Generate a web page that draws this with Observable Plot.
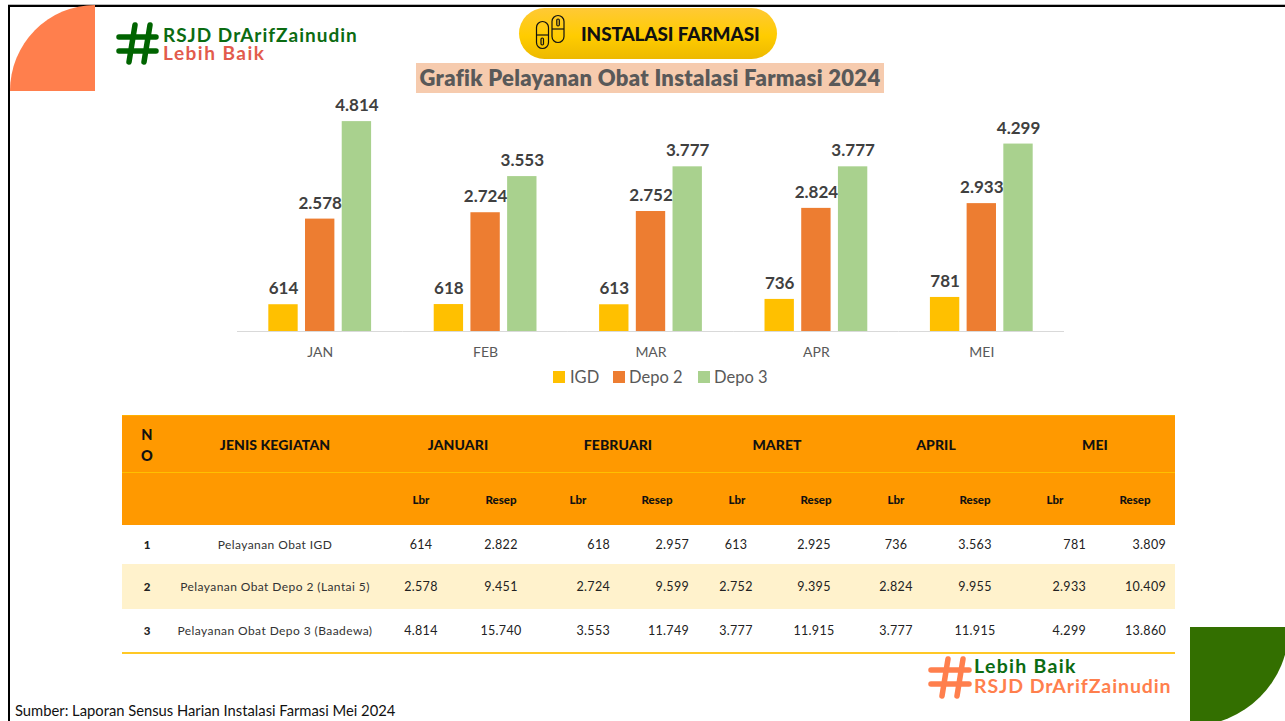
<!DOCTYPE html>
<html lang="id">
<head>
<meta charset="utf-8">
<title>Grafik Pelayanan Obat Instalasi Farmasi 2024</title>
<script src="https://cdn.jsdelivr.net/npm/d3@7"></script>
<script src="https://cdn.jsdelivr.net/npm/@observablehq/plot@0.6"></script>
<style>
html,body{margin:0;padding:0;background:#fff;}
#page{position:relative;width:1285px;height:721px;overflow:hidden;background:#fff;font-family:Lato,sans-serif;}
#page>*{position:absolute;}
.t{position:absolute;white-space:nowrap;line-height:1;transform:translate(-50%,-50%);}
.r{transform:translate(-100%,-50%);}
.l{transform:translate(0,-50%);}
.logo{line-height:.9;font-weight:700;}
</style>
</head>
<body>
<div id="page">
  <div style="left:8px;top:4px;width:1277px;height:1px;background:#bbb"></div>
  <div style="left:8px;top:5px;width:1277px;height:2px;background:#000"></div>
  <div style="left:8px;top:5px;width:2px;height:716px;background:#000"></div>
  <div style="left:10px;top:5px;width:85px;height:86px;background:#FF7F4D;border-top-left-radius:85px 86px"></div>
  <div style="left:1190px;top:627px;width:99px;height:99px;background:#336F00;border-bottom-right-radius:99px"></div>

  <svg style="left:0;top:0" width="1285" height="721" fill="none" stroke-linecap="round">
    <g stroke="#006400" stroke-width="5.5">
      <path d="M119 37H156M119 51H156M135 25L129 62M150 25L144 62"/>
    </g>
    <g stroke="#FF7F4D" stroke-width="5.5">
      <path d="M931 670H969M931 684H969M948 659L942 696M963 659L957 696"/>
    </g>
  </svg>

  <div style="left:519px;top:8px;width:258px;height:51px;border-radius:26px;background:linear-gradient(#FFC936,#FFCC00 55%,#EDB900)"></div>
  <svg style="left:530px;top:12px" width="40" height="40" fill="none" stroke="#111" stroke-width="1.2">
    <rect x="6.5" y="9.5" width="12" height="27" rx="6"/><path d="M6.5 23H18.5"/><rect x="11" y="26" width="2.5" height="7" rx="1.2"/>
    <rect x="22" y="3.5" width="12" height="27" rx="6"/><path d="M22 17H34"/><rect x="26.8" y="7" width="2.5" height="7" rx="1.2"/>
  </svg>
  <div class="t l" style="left:581px;top:34px;font-weight:900;font-size:18.9px;color:#111;letter-spacing:-.1px">INSTALASI FARMASI</div>

  <div style="left:416px;top:63px;width:468px;height:30px;background:#F6CBAE"></div>
  <div class="t" style="left:650px;top:78px;font-weight:800;font-size:22px;color:#595959;letter-spacing:.3px">Grafik Pelayanan Obat Instalasi Farmasi 2024</div>

  <div class="t l logo" style="left:163px;top:35px;font-size:19px;letter-spacing:1px;color:#0B6B12">RSJD DrArifZainudin</div>
  <div class="t l logo" style="left:163px;top:53px;font-size:19px;letter-spacing:1.5px;color:#E25B4C">Lebih Baik</div>
  <div class="t l logo" style="left:974px;top:666px;font-size:19.5px;letter-spacing:1.3px;color:#0B6B12">Lebih Baik</div>
  <div class="t l logo" style="left:974px;top:686px;font-size:19.5px;letter-spacing:.9px;color:#FF7F4D">RSJD DrArifZainudin</div>

  <div id="chart" style="left:0;top:0"></div>
  <div id="legend" style="left:0;top:0"></div>
  <div id="table" style="left:0;top:0"></div>

  <div class="t l" style="left:15px;top:710px;font-size:14.75px;color:#111">Sumber: Laporan Sensus Harian Instalasi Farmasi Mei 2024</div>
</div>
<script>
const months = ["JAN","FEB","MAR","APR","MEI"];
const series = ["IGD","Depo 2","Depo 3"];
const colors = ["#FFC000","#ED7D31","#A9D18E"];
const igd  = [614,618,613,736,781];
const depo2 = [2578,2724,2752,2824,2933];
const depo3 = [4814,3553,3777,3777,4299];

const monthNames = ["JANUARI","FEBRUARI","MARET","APRIL","MEI"];
const activities = ["Pelayanan Obat IGD","Pelayanan Obat Depo 2 (Lantai 5)","Pelayanan Obat Depo 3 (Baadewa)"];
const lembar = [igd, depo2, depo3];
const resepIgd = [2822,2957,2925,3563,3809];
const resepDepo2 = [9451,9599,9395,9955,10409];
const resepDepo3 = [15740,11749,11915,11915,13860];
const resep = [resepIgd, resepDepo2, resepDepo3];

const idFmt = d => d3.format(",")(d).replace(/,/g,".");
const rows = months.flatMap((m,i)=>[igd,depo2,depo3].map((s,j)=>({month:m,series:series[j],value:s[i]})));

const chart = Plot.plot({
  width:1285, height:400,
  marginLeft:237, marginRight:221, marginTop:113, marginBottom:69,
  style:{background:"transparent",fontFamily:"Lato,sans-serif"},
  fx:{domain:months,padding:0,label:null,round:false},
  x:{domain:series,axis:null,paddingInner:0.2,paddingOuter:0.853,round:false},
  y:{domain:[0,5000],axis:null},
  color:{domain:series,range:colors},
  marks:[
    Plot.barY(rows,{fx:"month",x:"series",y:"value",fill:"series"}),
    Plot.ruleY([0],{stroke:"#D9D9D9",strokeWidth:1.2}),
    Plot.text(rows,{fx:"month",x:"series",y:"value",text:d=>idFmt(d.value),dy:-16,fontSize:17,fontWeight:700,fill:"#404040"}),
    Plot.axisFx({anchor:"bottom",tickSize:0,tickPadding:16,fontSize:14,fill:"#595959",label:null})
  ]
});
document.getElementById("chart").appendChild(chart);

const span = (parent,cls,x,y,txt,style)=>{
  const e=document.createElement("div");
  e.className="t "+cls; e.style.left=x+"px"; e.style.top=y+"px"; e.style.cssText+=style; e.textContent=txt;
  parent.appendChild(e); return e;
};

// legend
const lg=document.getElementById("legend");
const swatchX=[553,613,698], labelX=[570,629,714];
series.forEach((s,i)=>{
  const b=document.createElement("div");
  b.style.cssText=`position:absolute;left:${swatchX[i]}px;top:371px;width:12px;height:12px;background:${colors[i]}`;
  lg.appendChild(b);
  span(lg,"l",labelX[i],377,s,"font-size:16.5px;color:#595959");
});

// table
const tb=document.getElementById("table");
const band=(y,h,c)=>{const b=document.createElement("div");
  b.style.cssText=`position:absolute;left:122px;top:${y}px;width:1053px;height:${h}px;background:${c}`;tb.appendChild(b);};
band(415,110,"#FF9900");
band(415,1,"#FFB000");
band(472,1,"#FFC000");
band(564,45,"#FFF2CC");
band(652,2,"#FFC825");

const hd="font-weight:900;color:#111;font-size:14px;letter-spacing:.1px;";
const sub="font-weight:900;color:#111;font-size:11.5px;";
const cell="color:#222;font-size:12.5px;letter-spacing:.3px;";
span(tb,"",147,435,"N",hd+"font-size:14.5px");
span(tb,"",147,456,"O",hd+"font-size:14.5px");
span(tb,"",275,445,"JENIS KEGIATAN",hd);
const monthX=[458,618,777,936,1095];
monthNames.forEach((m,i)=>span(tb,"",monthX[i],445,m,hd));
const subLbr=[421,578,737,896,1055], subRes=[501,657,816,975,1135];
monthX.forEach((_,i)=>{
  span(tb,"",subLbr[i],500,"Lbr",sub);
  span(tb,"",subRes[i],500,"Resep",sub);
});
const rowY=[545,587,631];
const lbrAnchor=[[421,""],[610,"r"],[736,""],[896,""],[1086,"r"]];
const resAnchor=[[501,""],[689,"r"],[814,""],[975,""],[1166,"r"]];
activities.forEach((a,r)=>{
  span(tb,"",147,rowY[r],String(r+1),"font-weight:900;color:#222;font-size:11.5px");
  span(tb,"",275,rowY[r],a,"color:#333;font-size:12px;letter-spacing:.42px");
  monthX.forEach((_,i)=>{
    span(tb,lbrAnchor[i][1],lbrAnchor[i][0],rowY[r],idFmt(lembar[r][i]),cell);
    span(tb,resAnchor[i][1],resAnchor[i][0],rowY[r],idFmt(resep[r][i]),cell);
  });
});
</script>
</body>
</html>
